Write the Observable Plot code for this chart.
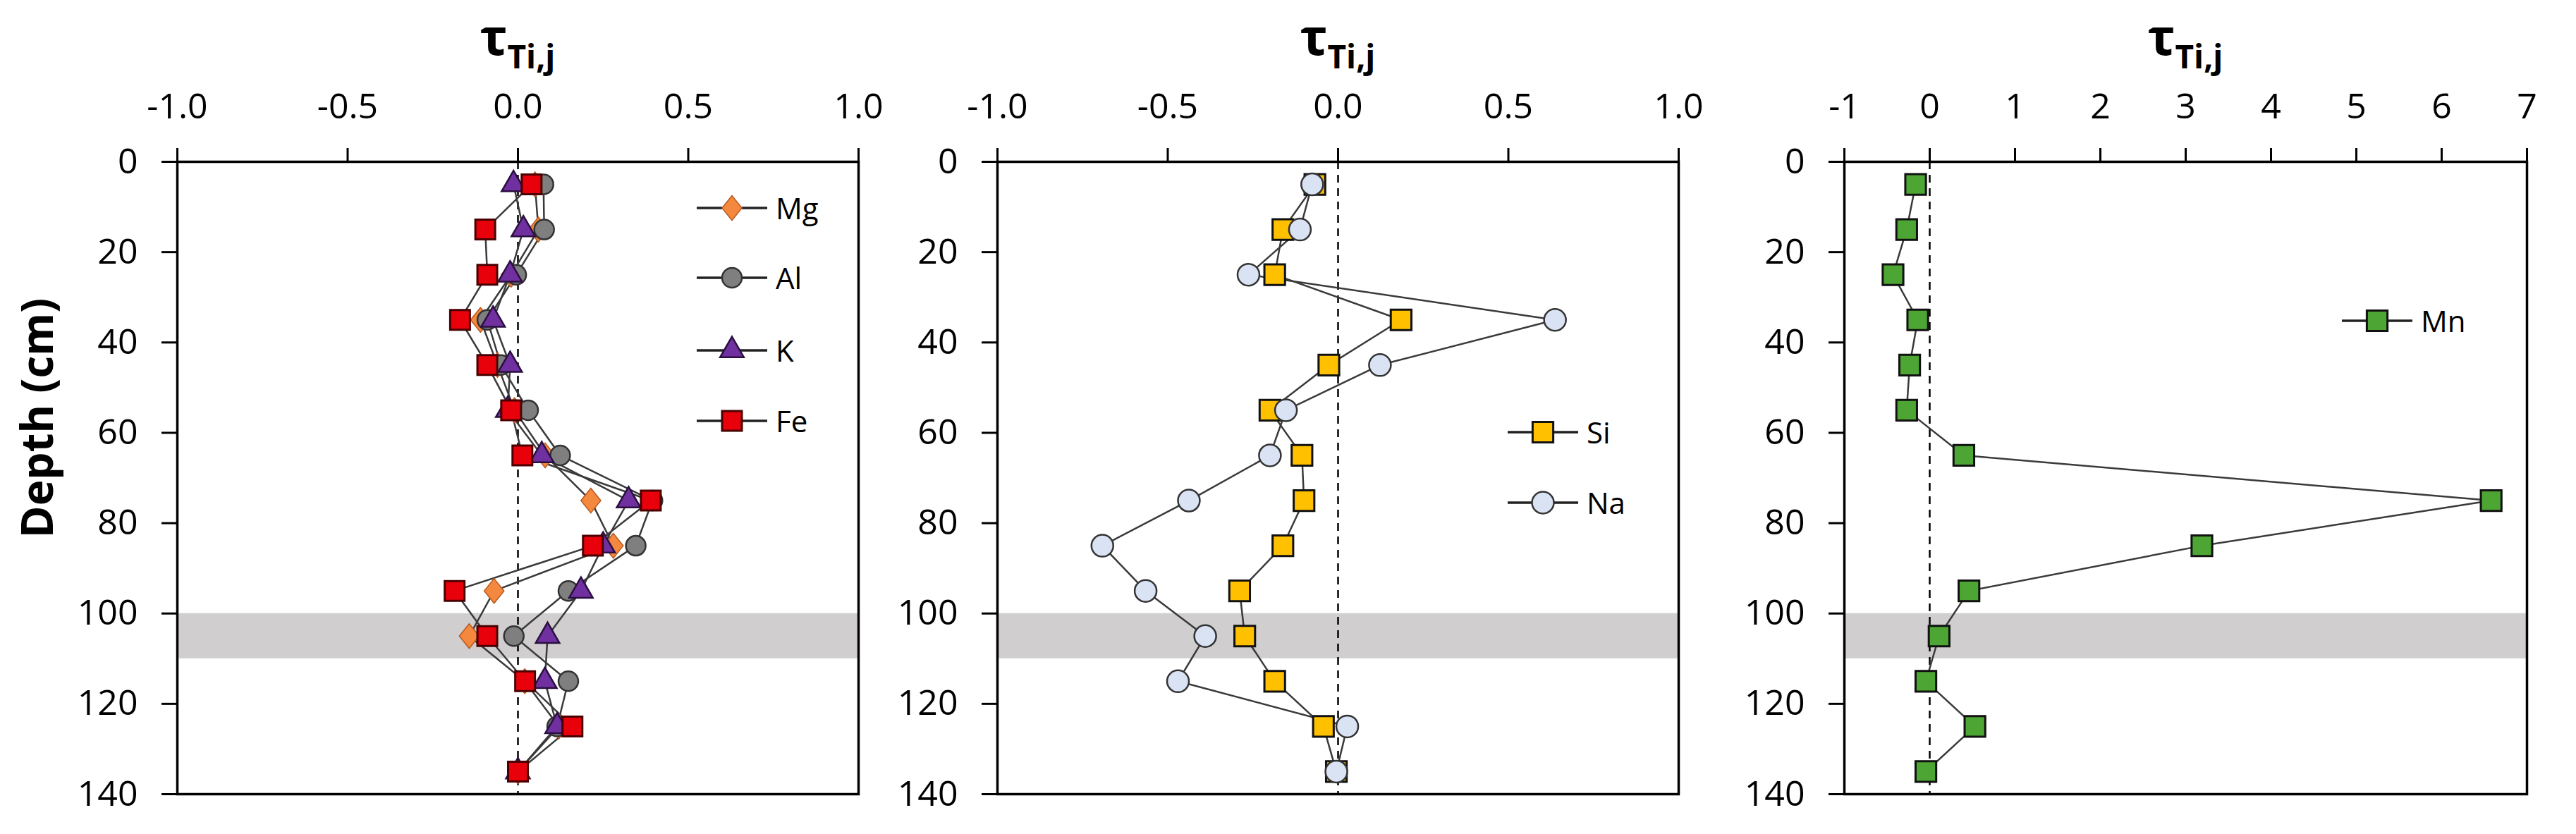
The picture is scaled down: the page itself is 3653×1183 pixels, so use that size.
<!DOCTYPE html>
<html><head><meta charset="utf-8">
<script src="https://cdn.jsdelivr.net/npm/d3@7"></script>
<script src="https://cdn.jsdelivr.net/npm/@observablehq/plot@0.6"></script>
<style>
body{margin:0;background:#fff;font-family:"Open Sans",sans-serif;color:#000;}
#root{position:relative;width:3653px;height:1183px;overflow:hidden;background:#fff;}
.panel{position:absolute;top:0;}
.panel svg{display:block;}
.title{position:absolute;top:0;height:110px;text-align:center;font-weight:bold;white-space:nowrap;line-height:72px;}
.title .tau{font-size:72px;position:relative;top:14px;}
.title .sub{font-size:46px;position:relative;top:33px;}
.ylab{position:absolute;font-weight:bold;font-size:62px;white-space:nowrap;transform:translate(-50%,-50%) rotate(-90deg);line-height:1;}
.leg{position:absolute;display:flex;align-items:center;height:44px;font-size:42px;line-height:1;}
.leg span{margin-left:12px;}
</style></head><body><div id="root"></div>
<script>
// ---- data ----
const depths = [5, 15, 25, 35, 45, 55, 65, 75, 85, 95, 105, 115, 125, 135];
const mg = [0.05, 0.06, -0.02, -0.11, -0.06, -0.01, 0.08, 0.214, 0.28, -0.07, -0.143, 0.02, 0.12, 0.0];
const al = [0.075, 0.077, -0.005, -0.09, -0.05, 0.03, 0.124, 0.395, 0.346, 0.148, -0.012, 0.148, 0.115, 0.0];
const k  = [-0.013, 0.016, -0.023, -0.073, -0.023, -0.03, 0.07, 0.325, 0.25, 0.185, 0.087, 0.079, 0.115, 0.0];
const fe = [0.04, -0.096, -0.09, -0.17, -0.09, -0.02, 0.013, 0.39, 0.22, -0.186, -0.09, 0.021, 0.16, 0.0];
const si = [-0.068, -0.162, -0.186, 0.185, -0.027, -0.2, -0.106, -0.1, -0.162, -0.289, -0.274, -0.186, -0.043, -0.005];
const na = [-0.076, -0.112, -0.263, 0.637, 0.123, -0.153, -0.2, -0.438, -0.692, -0.565, -0.39, -0.47, 0.027, -0.005];
const mn = [-0.165, -0.27, -0.43, -0.14, -0.235, -0.27, 0.40, 6.58, 3.19, 0.46, 0.11, -0.045, 0.53, -0.045];
const xTicksA = [-1, -0.5, 0, 0.5, 1];
const xTicksB = [-1, 0, 1, 2, 3, 4, 5, 6, 7];
const depthTicks = [0, 20, 40, 60, 80, 100, 120, 140];
const band = [{top: 100, bottom: 110}];
const titleMain = "τ";
const titleSub = "Ti,j";
const yLabel = "Depth (cm)";

// ---- styles ----
const diamondSym = {
  draw(ctx, size) {
    const h = Math.sqrt(size) * 0.62, w = h * 0.8;
    ctx.moveTo(0, -h); ctx.lineTo(w, 0); ctx.lineTo(0, h); ctx.lineTo(-w, 0); ctx.closePath();
  }
};
const styles = {
  Mg: {symbol: diamondSym, r: 16, fill: "#F4883E", stroke: "#b85a1e", sw: 1.5},
  Al: {symbol: "circle", r: 14, fill: "#7f7f7f", stroke: "#333", sw: 2.5},
  K:  {symbol: "triangle", r: 12.5, fill: "#7030A0", stroke: "#2a0f40", sw: 2.5},
  Fe: {symbol: "square", r: 15.8, fill: "#E8000B", stroke: "#4a0000", sw: 3},
  Si: {symbol: "square", r: 16.5, fill: "#FFC000", stroke: "#111", sw: 3},
  Na: {symbol: "circle", r: 15.5, fill: "#DAE3F3", stroke: "#333", sw: 2.5},
  Mn: {symbol: "square", r: 16.5, fill: "#4DA534", stroke: "#111", sw: 3}
};

function rowsOf(name, vals) { return depths.map((d, i) => ({el: name, depth: d, v: vals[i]})); }

function makePanel({series, domain, ticks, fmt, width, ml, mr}) {
  const rows = series.flatMap(([n, v]) => rowsOf(n, v));
  const marks = [
    Plot.rect(band, {x1: () => domain[0], x2: () => domain[1], y1: "top", y2: "bottom", fill: "#D0CECE"}),
    Plot.ruleX([0], {stroke: "#000", strokeWidth: 2.5, strokeDasharray: "11,8"}),
    Plot.line(rows, {x: "v", y: "depth", z: "el", stroke: "#3a3a3a", strokeWidth: 2.5})
  ];
  for (const [n, v] of series) {
    const s = styles[n];
    marks.push(Plot.dot(rowsOf(n, v), {x: "v", y: "depth", symbol: () => s.symbol, r: s.r, fill: s.fill, stroke: s.stroke, strokeWidth: s.sw}));
  }
  marks.push(
    Plot.axisX({anchor: "top", ticks, tickFormat: fmt, tickSize: 20, tickPadding: 42, label: null, fontSize: 50, strokeWidth: 3}),
    Plot.axisY({anchor: "left", ticks: depthTicks, tickSize: 22, tickPadding: 34, label: null, fontSize: 50, strokeWidth: 3}),
    Plot.frame({stroke: "#000", strokeWidth: 3.5})
  );
  return Plot.plot({
    width, height: 1073, marginTop: 119, marginBottom: 57, marginLeft: ml, marginRight: mr,
    style: {fontFamily: "'Open Sans', sans-serif", fontSize: "50px", color: "#000", background: "transparent", overflow: "visible"},
    x: {domain, ticks},
    y: {domain: [0, 140], reverse: true},
    symbol: {type: "identity"},
    marks
  });
}

const root = document.getElementById("root");
const panels = [
  {left: 0, width: 1240, ml: 251, mr: 23, series: [["Mg", mg], ["Al", al], ["K", k], ["Fe", fe]], domain: [-1, 1], ticks: xTicksA, fmt: d => d.toFixed(1)},
  {left: 1240, width: 1200, ml: 174, mr: 60, series: [["Si", si], ["Na", na]], domain: [-1, 1], ticks: xTicksA, fmt: d => d.toFixed(1)},
  {left: 2440, width: 1213, ml: 175, mr: 70, series: [["Mn", mn]], domain: [-1, 7], ticks: xTicksB, fmt: d => String(d)}
];
for (const p of panels) {
  const wrap = document.createElement("div");
  wrap.className = "panel";
  wrap.style.left = p.left + "px";
  wrap.style.width = p.width + "px";
  const t = document.createElement("div");
  t.className = "title";
  t.style.left = p.ml + "px";
  t.style.width = (p.width - p.ml - p.mr) + "px";
  t.innerHTML = `<span class="tau">${titleMain}</span><span class="sub">${titleSub}</span>`;
  wrap.appendChild(t);
  const svgHolder = document.createElement("div");
  svgHolder.style.position = "absolute";
  svgHolder.style.top = "110px";
  svgHolder.appendChild(makePanel(p));
  wrap.appendChild(svgHolder);
  root.appendChild(wrap);
}

const yl = document.createElement("div");
yl.className = "ylab";
yl.style.left = "51px"; yl.style.top = "593px";
yl.textContent = yLabel;
root.appendChild(yl);

// legends
function legend(name, x, y) {
  const s = styles[name];
  const div = document.createElement("div");
  div.className = "leg";
  div.style.left = x + "px";
  div.style.top = (y - 22) + "px";
  const sym = typeof s.symbol === "string" ? null : s.symbol;
  let markSvg;
  if (s.symbol === "circle") {
    markSvg = `<circle cx="50" cy="22" r="${s.r}" fill="${s.fill}" stroke="${s.stroke}" stroke-width="${s.sw}"/>`;
  } else {
    const type = sym || (s.symbol === "square" ? d3.symbolSquare : d3.symbolTriangle);
    const path = d3.symbol(type, s.r * s.r * Math.PI)();
    markSvg = `<path transform="translate(50,22)" d="${path}" fill="${s.fill}" stroke="${s.stroke}" stroke-width="${s.sw}"/>`;
  }
  div.innerHTML = `<svg width="100" height="44" style="overflow:visible"><line x1="0" x2="100" y1="22" y2="22" stroke="#222" stroke-width="3.5"/>${markSvg}</svg><span>${name}</span>`;
  root.appendChild(div);
}
[["Mg", 295], ["Al", 394], ["K", 497], ["Fe", 597]].forEach(([n, y]) => legend(n, 988, y));
[["Si", 613], ["Na", 713]].forEach(([n, y]) => legend(n, 2138, y));
legend("Mn", 3321, 455);
</script></body></html>
